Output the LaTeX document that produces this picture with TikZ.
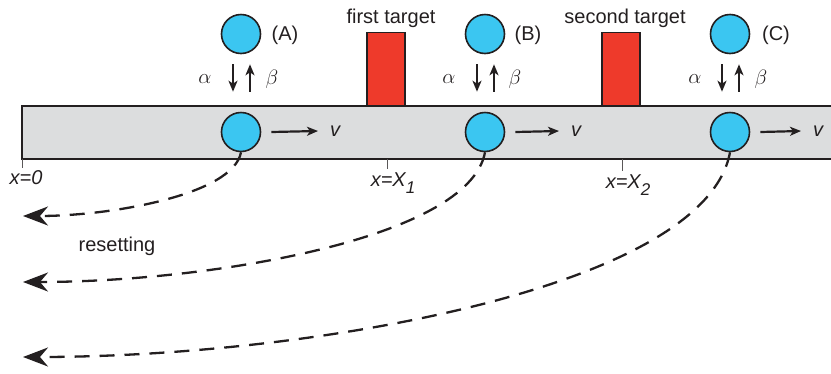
\documentclass[tikz,border=0pt]{standalone}
\usepackage{fontspec}
\setmainfont{Liberation Sans}
\usetikzlibrary{arrows.meta}

\definecolor{ballblue}{HTML}{3BC6F1}
\definecolor{targetred}{HTML}{EE3A2B}
\definecolor{bargray}{HTML}{DCDDDE}
\definecolor{ink}{HTML}{231F20}

\newcommand{\sub}[1]{\raisebox{-7pt}{\fontsize{17}{18}\selectfont #1}}

\begin{document}
\begin{tikzpicture}[x=1pt, y=-1pt,
  every node/.style={inner sep=0pt, text=ink, font=\fontsize{20}{24}\selectfont},
  ball/.style={circle, draw=ink, fill=ballblue, line width=1.6pt, minimum size=39pt},
  target/.style={rectangle, draw=ink, fill=targetred, line width=1.2pt,
    minimum width=38pt, minimum height=73pt, anchor=south},
  rate/.style={draw=ink, line width=2.2pt, -{Stealth[length=11pt,width=9pt,inset=3pt]}},
  reset/.style={draw=ink, line width=2.3pt, dash pattern=on 15pt off 10pt,
    -{Stealth[length=25pt,width=19pt,inset=8pt]}},
  tick/.style={draw=ink!75, line width=1pt}
]
  \useasboundingbox (0,0) rectangle (831,373);

  % track
  \fill[bargray] (22,106) rectangle (831,159);
  \draw[ink, line width=1.3pt] (831,106) -- (22,106) -- (22,159) -- (831,159);

  % targets
  \node[target] (t1) at (386,106) {};
  \node[target] (t2) at (621,106) {};
  \node[anchor=base] (n1) at (391,23) {first target};
  \node[anchor=base] (n2) at (625,23) {second target};

  % stations
  \node[ball] (a1) at (241, 34) {};
  \node[ball] (a2) at (241,132) {};
  \node[ball] (b1) at (485, 34) {};
  \node[ball] (b2) at (485,132) {};
  \node[ball] (c1) at (730, 34) {};
  \node[ball] (c2) at (730,132) {};
  \node (la) at (285,35) {(A)};
  \node (lb) at (528,35) {(B)};
  \node (lc) at (776,35) {(C)};

  % switching rates
  \node (ala) at (205,79) {$\alpha$};
  \node (bea) at (272,79) {$\beta$};
  \node (alb) at (449,79) {$\alpha$};
  \node (beb) at (515,79) {$\beta$};
  \node (alc) at (695,79) {$\alpha$};
  \node (bec) at (761,79) {$\beta$};
  \draw[rate] ([xshift=-8pt,yshift=-10pt]a1.south) -- ([xshift=-8pt,yshift=20pt]a2.north);
  \draw[rate] ([xshift=9pt,yshift=20pt]a2.north) -- ([xshift=9pt,yshift=-10pt]a1.south);
  \draw[rate] ([xshift=-8pt,yshift=-10pt]b1.south) -- ([xshift=-8pt,yshift=20pt]b2.north);
  \draw[rate] ([xshift=9pt,yshift=20pt]b2.north) -- ([xshift=9pt,yshift=-10pt]b1.south);
  \draw[rate] ([xshift=-8pt,yshift=-10pt]c1.south) -- ([xshift=-8pt,yshift=20pt]c2.north);
  \draw[rate] ([xshift=9pt,yshift=20pt]c2.north) -- ([xshift=9pt,yshift=-10pt]c1.south);

  % velocity
  \node[anchor=west] (va) at (330,131) {\itshape v};
  \node[anchor=west] (vb) at (571,131) {\itshape v};
  \node[anchor=west] (vc) at (813,131) {\itshape v};
  \draw[rate] ([xshift=10pt]a2.east) -- ([xshift=-12pt]va.west);
  \draw[rate] ([xshift=10pt]b2.east) -- ([xshift=-12pt]vb.west);
  \draw[rate] ([xshift=10pt]c2.east) -- ([xshift=-12pt]vc.west);

  % positions
  \coordinate (x0) at (22,168);
  \coordinate (x1) at (387,169);
  \coordinate (x2) at (622,171);
  \draw[tick] (22,159) -- (x0);
  \draw[tick] (387,159) -- (x1);
  \draw[tick] (622,159) -- (x2);
  \node (lx0) at (26,178) {\itshape x=0};
  \node (lx1) at (393,183) {\itshape x=X\sub{1}};
  \node (lx2) at (628,185) {\itshape x=X\sub{2}};

  % resetting
  \coordinate (r1) at (23,216);
  \coordinate (r2) at (23,282);
  \coordinate (r3) at (23,357);
  \draw[reset] (a2.south) .. controls (233,195) and (110,216) .. (r1);
  \draw[reset] (b2.south) .. controls (469,239) and (208,282) .. (r2);
  \draw[reset] (c2.south) .. controls (705,289) and (306,357) .. (r3);
  \node (rs) at (117,246) {resetting};
\end{tikzpicture}
\end{document}
